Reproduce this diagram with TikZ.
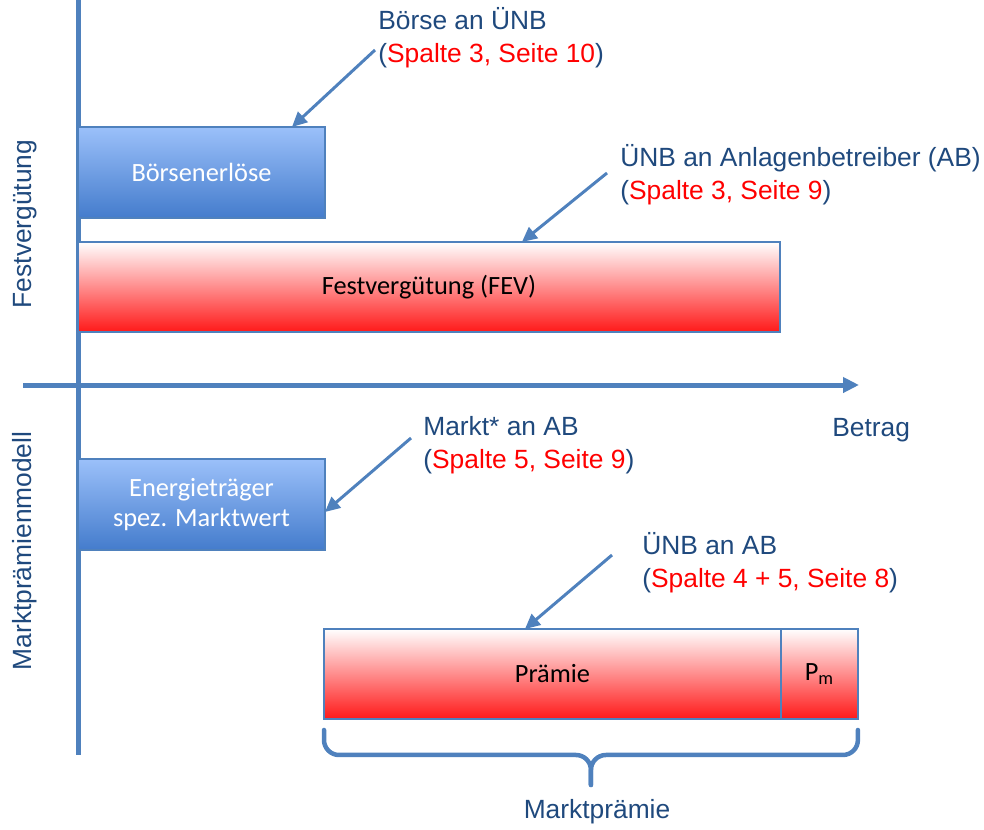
\documentclass[tikz,border=0pt]{standalone}
\usepackage{fontspec}
\setmainfont{Liberation Sans}
\newfontfamily\calibri{Carlito}
\usetikzlibrary{
	arrows.meta,positioning,calc
}
\definecolor{axisblue}{RGB}{79,129,189}
\definecolor{textblue}{RGB}{31,73,125}
\definecolor{boxtop}{RGB}{155,192,250}
\definecolor{boxbottom}{RGB}{68,124,204}
\definecolor{boxred}{RGB}{255,25,25}
\tikzset{
	bluebox/.style={
		rectangle, minimum height=1.82cm, anchor=north west, outer sep=0pt,
		draw=axisblue, line width=0.9pt, top color=boxtop, bottom color=boxbottom,
		text=white, font=\calibri\fontsize{15}{17.5}\selectfont
	},
	%
	redbox/.style={
		rectangle, minimum height=1.8cm, anchor=north west, outer sep=0pt,
		draw=axisblue, line width=0.9pt, top color=white, bottom color=boxred,
		text=black, font=\calibri\fontsize{15}{17.5}\selectfont
	},
	%
	note/.style={
		text=textblue, font=\fontsize{15}{19}\selectfont,
		align=left, anchor=west, inner sep=0pt
	},
	%
	pointer/.style={
		draw=axisblue, line width=1.7pt, -{Triangle[length=0.3cm,width=0.28cm]}
	},
	%
	braceline/.style={
		draw=axisblue, line width=0.09cm, line cap=round, rounded corners=0.3cm
	}
}

\begin{document}
\begin{tikzpicture}[x=0.02cm, y=-0.02cm]
    \useasboundingbox (0,0) rectangle (984,829);
    % axes
    \draw[axisblue, line width=0.1cm] (78,0) -- (78,755);
    \draw[axisblue, line width=0.1cm, -{Triangle[length=0.32cm,width=0.3cm]}] (23,385) -- (859,385);
    \node(fest)[note, anchor=center, rotate=90] at (25,224) {Festvergütung};
    \node(mpm)[note, anchor=center, rotate=90] at (25,551) {Marktprämienmodell};
    \node(betrag)[note] at (832,430) {Betrag};
    % boxes
    \node(boerse)[bluebox, minimum width=4.94cm] at (78,127) {Börsenerlöse};
    \node(fev)[redbox, minimum width=14.04cm, below=0.48cm of boerse.south west, anchor=north west] {Festvergütung (FEV)};
    \node(energie)[bluebox, minimum width=4.94cm, align=center] at (78,459) {Energieträger\\spez. Marktwert};
    \node(praemie)[redbox, minimum width=9.14cm] at (324,629) {Prämie};
    \node(pm)[redbox, minimum width=1.54cm, right=0pt of praemie] {P\textsubscript{m}};
    % notes
    \node(l1)[note] at (378,38) {Börse an ÜNB\\(\textcolor{red}{Spalte 3, Seite 10})};
    \node(l2)[note] at (620,175) {ÜNB an Anlagenbetreiber (AB)\\(\textcolor{red}{Spalte 3, Seite 9})};
    \node(l3)[note] at (423,445) {Markt* an AB\\(\textcolor{red}{Spalte 5, Seite 9})};
    \node(l4)[note] at (642,563) {ÜNB an AB\\(\textcolor{red}{Spalte 4 + 5, Seite 8})};
    \coordinate (t1) at (375,50);
    \coordinate (t2) at (607,173);
    \coordinate (t3) at (411,438);
    \coordinate (t4) at (612,555);
    \draw[pointer] (t1) -- ([xshift=-0.66cm]boerse.north east);
    \draw[pointer] (t2) -- ([xshift=1.86cm]fev.north);
    \draw[pointer] (t3) -- ([yshift=-0.15cm]energie.east);
    \draw[pointer] (t4) -- ([xshift=-0.55cm]praemie.north);
    % brace
    \coordinate (bl) at ([yshift=-0.22cm]praemie.south west);
    \coordinate (br) at ([yshift=-0.22cm]pm.south east);
    \coordinate (btip) at ($(bl)!0.5!(br)+(0,55)$);
    \draw[braceline] (bl) |- ($(btip)+(0,-30)$) -- (btip);
    \draw[braceline] (br) |- ($(btip)+(0,-30)$) -- (btip);
    \node(mp)[note, anchor=center] at (597,812) {Marktprämie};
\end{tikzpicture}
\end{document}
